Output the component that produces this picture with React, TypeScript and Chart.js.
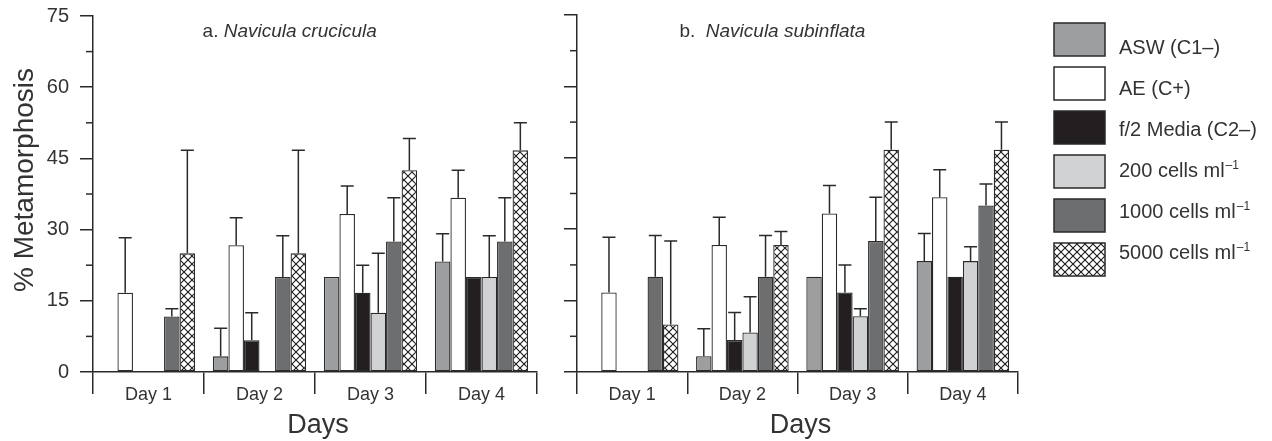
import React, { useEffect, useRef } from 'react';
import { Chart, registerables } from 'chart.js';
Chart.register(...registerables);

// ---------- data ----------
const days = ['Day 1', 'Day 2', 'Day 3', 'Day 4'];
const seriesLabels = ['ASW (C1–)', 'AE (C+)', 'f/2 Media (C2–)', '200 cells ml⁻¹', '1000 cells ml⁻¹', '5000 cells ml⁻¹'];
const yMin = 0;
const yMax = 75;
const yStep = 15;

// Panel a. Navicula crucicula (mean % metamorphosis, SD)
const aASW = [0, 3.3, 20, 23.3];
const aAE = [16.7, 26.7, 33.3, 36.7];
const aF2 = [0, 6.7, 16.7, 20];
const a200 = [0, 0, 12.5, 20];
const a1000 = [11.7, 20, 27.5, 27.5];
const a5000 = [25, 25, 42.5, 46.7];
const aASWErr = [0, 5.9, 0, 5.8];
const aAEErr = [11.6, 5.8, 5.9, 5.8];
const aF2Err = [0, 5.8, 5.8, 0];
const a200Err = [0, 0, 12.5, 8.7];
const a1000Err = [1.6, 8.7, 9.2, 9.2];
const a5000Err = [21.7, 21.7, 6.7, 5.8];

// Panel b. Navicula subinflata
const bASW = [0, 3.3, 20, 23.3];
const bAE = [16.7, 26.7, 33.3, 36.7];
const bF2 = [0, 6.7, 16.7, 20];
const b200 = [0, 8.3, 11.7, 23.3];
const b1000 = [20, 20, 27.5, 35];
const b5000 = [10, 26.7, 46.7, 46.7];
const bASWErr = [0, 5.8, 0, 5.8];
const bAEErr = [11.6, 5.8, 5.9, 5.8];
const bF2Err = [0, 5.8, 5.8, 0];
const b200Err = [0, 7.5, 1.6, 3];
const b1000Err = [8.7, 8.7, 9.2, 4.5];
const b5000Err = [17.5, 2.8, 5.8, 5.8];

// ---------- styles ----------
const FONT = '"Liberation Sans", Arial, Helvetica, sans-serif';
const TEXT = '#333333';
const LINE = '#2a2a2a';

function makeHatch(): CanvasPattern | string {
  const c = document.createElement('canvas');
  c.width = 8;
  c.height = 8;
  const g = c.getContext('2d');
  if (!g) return '#fff';
  g.fillStyle = '#ffffff';
  g.fillRect(0, 0, 8, 8);
  g.strokeStyle = '#1a1a1a';
  g.lineWidth = 1.1;
  g.beginPath();
  g.moveTo(-1, -1); g.lineTo(9, 9);
  g.moveTo(9, -1); g.lineTo(-1, 9);
  g.stroke();
  const p = g.createPattern(c, 'repeat');
  return p || '#fff';
}

const errorBarPlugin = (errs: number[][]) => ({
  id: 'errorBars',
  afterDatasetsDraw(chart: any) {
    const ctx = chart.ctx;
    const ys = chart.scales.y;
    ctx.save();
    ctx.strokeStyle = LINE;
    ctx.lineWidth = 1.5;
    chart.data.datasets.forEach((ds: any, i: number) => {
      const meta = chart.getDatasetMeta(i);
      meta.data.forEach((el: any, j: number) => {
        const e = errs[i][j];
        if (!e) return;
        const v = ds.data[j] as number;
        const yBar = ys.getPixelForValue(v);
        const yTop = ys.getPixelForValue(v + e);
        const half = el.width * 0.42;
        ctx.beginPath();
        ctx.moveTo(el.x, yBar);
        ctx.lineTo(el.x, yTop);
        ctx.moveTo(el.x - half, yTop);
        ctx.lineTo(el.x + half, yTop);
        ctx.stroke();
      });
    });
    ctx.restore();
  },
});

const minorTickPlugin = {
  id: 'minorTicks',
  afterDraw(chart: any) {
    const ctx = chart.ctx;
    const ys = chart.scales.y;
    const left = chart.chartArea.left;
    ctx.save();
    ctx.strokeStyle = LINE;
    ctx.lineWidth = 1.5;
    for (let v = yMin + yStep / 2; v < yMax; v += yStep) {
      const y = ys.getPixelForValue(v);
      ctx.beginPath();
      ctx.moveTo(left - 7, y);
      ctx.lineTo(left, y);
      ctx.stroke();
    }
    ctx.restore();
  },
};

function drawLegend(ctx: CanvasRenderingContext2D, chart: any, fills: any[]) {
  const boxLeft = chart.chartArea.right + 36;
  const textX = boxLeft + 65;
  seriesLabels.forEach((lab, i) => {
    const top = 23 + i * 44;
    ctx.fillStyle = fills[i];
    ctx.fillRect(boxLeft, top, 51, 33);
    ctx.strokeStyle = LINE;
    ctx.lineWidth = 1.5;
    ctx.strokeRect(boxLeft, top, 51, 33);
    const parts = lab.split('⁻¹');
    ctx.fillStyle = TEXT;
    ctx.textBaseline = 'alphabetic';
    ctx.textAlign = 'left';
    ctx.font = `20px ${FONT}`;
    const base = 47 + i * 41 + 7.2;
    ctx.fillText(parts[0], textX, base);
    if (parts.length > 1) {
      const w = ctx.measureText(parts[0]).width;
      ctx.font = `12px ${FONT}`;
      ctx.fillText('–1', textX + w + 1, base - 8);
    }
  });
}

const textPlugin = (opts: { prefix: string; species: string; yTitle: boolean; legend: boolean; fills: any[] }) => ({
  id: 'texts',
  afterDraw(chart: any) {
    const ctx = chart.ctx as CanvasRenderingContext2D;
    const ca = chart.chartArea;
    ctx.save();
    ctx.fillStyle = TEXT;
    // panel title
    ctx.font = `19px ${FONT}`;
    const w1 = ctx.measureText(opts.prefix).width;
    ctx.font = `italic 19px ${FONT}`;
    const w2 = ctx.measureText(opts.species).width;
    const cx = ca.left + (ca.right - ca.left) * 0.443;
    const x0 = cx - (w1 + w2) / 2;
    ctx.textBaseline = 'alphabetic';
    ctx.textAlign = 'left';
    ctx.font = `19px ${FONT}`;
    ctx.fillText(opts.prefix, x0, 37);
    ctx.font = `italic 19px ${FONT}`;
    ctx.fillText(opts.species, x0 + w1, 37);
    // x title
    ctx.font = `27px ${FONT}`;
    ctx.textAlign = 'center';
    ctx.fillText('Days', (ca.left + ca.right) / 2 + 3, 433);
    // y title
    if (opts.yTitle) {
      ctx.save();
      ctx.translate(33, 180);
      ctx.rotate(-Math.PI / 2);
      ctx.font = `28px ${FONT}`;
      ctx.textAlign = 'center';
      ctx.fillText('% Metamorphosis', 0, 0);
      ctx.restore();
    }
    if (opts.legend) drawLegend(ctx, chart, opts.fills);
    ctx.restore();
  },
});

function buildChart(
  canvas: HTMLCanvasElement,
  series: number[][],
  errs: number[][],
  fills: any[],
  cfg: { yWidth: number; padRight: number; padTop: number; showY: boolean; prefix: string; species: string; legend: boolean }
) {
  return new Chart(canvas, {
    type: 'bar',
    data: {
      labels: days,
      datasets: series.map((d, i) => ({
        label: seriesLabels[i],
        data: d,
        backgroundColor: fills[i],
        borderColor: LINE,
        borderWidth: 1.3,
        borderSkipped: false,
        categoryPercentage: 0.84,
        barPercentage: 1.0,
      })),
    },
    options: {
      responsive: false,
      animation: false,
      devicePixelRatio: 1,
      layout: { padding: { top: cfg.padTop, right: cfg.padRight, left: 0, bottom: 0 } },
      plugins: { legend: { display: false }, tooltip: { enabled: false }, title: { display: false } },
      scales: {
        x: {
          type: 'category',
          grid: {
            display: true,
            offset: true,
            drawOnChartArea: false,
            drawTicks: true,
            tickLength: 22,
            color: LINE,
            lineWidth: 1.5,
          },
          border: { display: true, color: LINE, width: 1.5 },
          ticks: {
            color: TEXT,
            font: { family: FONT, size: 18 },
            padding: -10,
            maxRotation: 0,
            autoSkip: false,
          },
          afterFit: (s: any) => { s.height = 69; },
        },
        y: {
          type: 'linear',
          min: yMin,
          max: yMax,
          grid: {
            display: true,
            drawOnChartArea: false,
            drawTicks: true,
            tickLength: 13,
            color: LINE,
            lineWidth: 1.5,
          },
          border: { display: true, color: LINE, width: 1.5 },
          ticks: {
            stepSize: yStep,
            display: cfg.showY,
            color: TEXT,
            font: { family: FONT, size: 20 },
            padding: 11,
          },
          afterFit: (s: any) => {
            s.width = cfg.yWidth;
            s.paddingTop = 0;
            s.paddingBottom = 0;
          },
        },
      },
    },
    plugins: [
      errorBarPlugin(errs),
      minorTickPlugin,
      textPlugin({ prefix: cfg.prefix, species: cfg.species, yTitle: cfg.showY, legend: cfg.legend, fills }),
    ],
  } as any);
}

export default function App() {
  const refA = useRef<HTMLCanvasElement>(null);
  const refB = useRef<HTMLCanvasElement>(null);

  useEffect(() => {
    const hatch = makeHatch();
    const fills = ['#9d9ea0', '#ffffff', '#231f20', '#d1d2d4', '#6d6e70', hatch];
    const chartA = buildChart(
      refA.current!,
      [aASW, aAE, aF2, a200, a1000, a5000],
      [aASWErr, aAEErr, aF2Err, a200Err, a1000Err, a5000Err],
      fills,
      { yWidth: 93, padRight: 8, padTop: 16, showY: true, prefix: 'a. ', species: 'Navicula crucicula', legend: false }
    );
    const chartB = buildChart(
      refB.current!,
      [bASW, bAE, bF2, b200, b1000, b5000],
      [bASWErr, bAEErr, bF2Err, b200Err, b1000Err, b5000Err],
      fills,
      { yWidth: 32, padRight: 254, padTop: 15, showY: false, prefix: 'b.  ', species: 'Navicula subinflata', legend: true }
    );
    return () => {
      chartA.destroy();
      chartB.destroy();
    };
  }, []);

  return (
    <div style={{ position: 'absolute', left: 0, top: 0, width: 1272, height: 441, background: '#ffffff' }}>
      <canvas ref={refA} width={545} height={441} style={{ position: 'absolute', left: 0, top: 0, width: 545, height: 441 }} />
      <canvas ref={refB} width={727} height={441} style={{ position: 'absolute', left: 545, top: 0, width: 727, height: 441 }} />
    </div>
  );
}
